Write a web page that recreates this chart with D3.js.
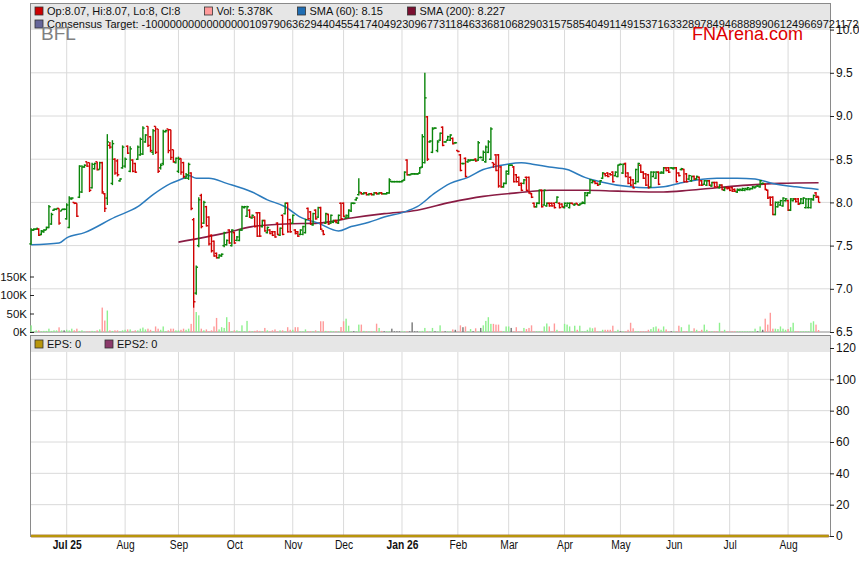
<!DOCTYPE html>
<html>
<head>
<meta charset="utf-8">
<script src="https://cdn.jsdelivr.net/npm/d3@7"></script>
<style>
  body { margin: 0; background: #fff; }
  svg text { font-family: "Liberation Sans", Arial, sans-serif; }
</style>
</head>
<body>
<svg id="chart" width="859" height="566"></svg>
<script>
// BFL daily bars, one entry per weekday from 11 Jun 2025
const opens = [
  7.52,7.68,7.69,7.69,7.63,7.66,7.68,7.71,7.75,7.91, 7.92,7.93,7.90,7.92,7.81,7.71,8.04,8.00,7.99,8.06,
  8.12,8.41,8.47,8.46,8.17,8.39,8.47,8.38,8.46,8.10, 8.05,8.66,8.22,8.50,8.48,8.25,8.40,8.42,8.65,8.36,
  8.49,8.45,8.50,8.55,8.56,8.70,8.88,8.76,8.58,8.88, 8.85,8.40,8.45,8.82,8.85,8.84,8.61,8.46,8.36,8.51,
  8.46,8.28,8.28,8.34,7.80,6.95,7.50,8.08,7.76,7.95, 7.83,7.62,7.55,7.41,7.36,7.38,7.50,7.51,7.68,7.50,
  7.65,7.56,7.56,7.68,7.94,7.84,7.91,7.82,7.83,7.88, 7.88,7.72,7.79,7.65,7.68,7.66,7.66,7.76,7.62,7.85,
  7.87,7.99,7.80,7.76,7.68,7.66,7.63,7.63,7.65,7.93, 7.89,7.74,7.91,7.83,7.94,7.67,7.76,7.86,7.76,7.77,
  7.79,7.76,7.99,7.99,7.82,7.83,7.90,7.99,8.03,8.09, 8.11,8.10,8.11,8.09,8.10,8.09,8.11,8.10,8.11,8.10,
  8.10,8.11,8.24,8.24,8.24,8.24,8.24,8.26,8.49,8.32,8.33, 8.33,8.33,8.34,8.41,8.46,8.99,8.70,8.58,8.86,8.60,8.72,
  8.87,8.70,8.72,8.72,8.74,8.69,8.60,8.55,8.45,8.51, 8.47,8.48,8.49,8.50,8.49,8.52,8.49,8.47,8.58,8.50,8.46,
  8.55,8.55,8.41,8.18,8.22,8.33,8.43,8.41,8.32,8.29, 8.22,8.22,8.29,8.29,8.10,7.99,7.95,7.99,8.14,7.97,
  7.96,7.99,7.99,7.99,8.00,7.99,7.98,7.94, 7.96,7.94,7.99,7.97,7.99,7.97,7.99,7.99,8.08,8.11,
  8.23,8.24,8.22,8.21,8.28,8.33,8.34,8.33,8.35,8.31, 8.30,8.44,8.34,8.45,8.34,8.29,8.26,8.22,8.24,8.43,
  8.35,8.33,8.32,8.18,8.30,8.28,8.35,8.34,8.34,8.40, 8.40,8.40,8.39,8.40,8.34,8.38,8.38,8.33,8.27,8.25,
  8.30,8.27,8.29,8.25,8.21,8.20,8.25,8.19,8.23,8.23, 8.17,8.20,8.14,8.17,8.17,8.17,8.15,8.12,8.14,8.14,
  8.14,8.15,8.15,8.16,8.17,8.19,8.18,8.22,8.21,8.14, 8.06,8.06,7.86,7.95,7.97,7.96,8.02,8.02,7.91,8.02,
  8.04,8.04,7.99,7.99,7.94,7.94,7.94,8.03,8.11,8.07
];
const highs = [
  7.70,7.70,7.70,7.70,7.68,7.69,7.72,7.97,7.88,7.93, 7.93,7.93,7.92,7.93,7.99,8.07,8.06,8.00,7.99,8.43,
  8.43,8.44,8.47,8.46,8.46,8.46,8.47,8.47,8.47,8.11, 8.79,8.70,8.72,8.51,8.50,8.28,8.66,8.52,8.66,8.65,
  8.50,8.46,8.66,8.75,8.88,8.79,8.88,8.77,8.85,8.88, 8.85,8.45,8.84,8.84,8.85,8.84,8.61,8.52,8.53,8.51,
  8.47,8.34,8.46,8.35,7.82,7.27,8.06,8.10,8.02,7.96, 7.84,7.63,7.56,7.42,7.40,7.41,7.66,7.57,7.69,7.69,
  7.66,7.61,7.69,7.96,7.96,7.96,7.92,7.86,7.84,7.89, 7.89,7.80,7.80,7.72,7.69,7.67,7.67,7.77,7.71,7.86,
  8.00,8.00,7.81,7.86,7.69,7.67,7.69,7.73,7.81,7.94, 7.90,7.88,7.92,7.95,7.95,7.68,7.88,7.87,7.86,7.80,
  7.80,7.86,8.00,8.00,7.86,7.92,8.00,8.00,8.06,8.28, 8.12,8.12,8.12,8.11,8.11,8.12,8.12,8.12,8.12,8.11,
  8.12,8.28,8.25,8.25,8.25,8.25,8.26,8.36,8.50,8.33,8.34, 8.34,8.34,8.41,8.79,9.50,9.00,8.72,8.87,8.87,8.72,8.81,
  8.88,8.71,8.77,8.79,8.75,8.70,8.60,8.56,8.46,8.52, 8.50,8.50,8.50,8.51,8.71,8.53,8.60,8.66,8.72,8.87,8.46,
  8.56,8.56,8.42,8.23,8.37,8.44,8.44,8.42,8.33,8.30, 8.23,8.27,8.30,8.30,8.11,8.00,8.00,8.15,8.15,8.15,
  8.00,8.00,8.00,8.00,8.07,8.00,7.99,8.00, 8.00,8.00,8.00,7.99,7.99,7.99,8.01,8.12,8.12,8.27,
  8.26,8.25,8.23,8.26,8.35,8.34,8.35,8.34,8.36,8.36, 8.44,8.45,8.45,8.46,8.35,8.30,8.27,8.39,8.46,8.44,
  8.36,8.34,8.33,8.36,8.36,8.36,8.36,8.36,8.41,8.41, 8.41,8.41,8.41,8.41,8.35,8.40,8.39,8.34,8.32,8.31,
  8.31,8.31,8.30,8.26,8.26,8.26,8.26,8.24,8.24,8.24, 8.21,8.21,8.18,8.18,8.18,8.18,8.16,8.16,8.16,8.17,
  8.17,8.18,8.17,8.19,8.19,8.20,8.26,8.23,8.22,8.15, 8.07,8.07,8.01,8.01,8.03,8.06,8.05,8.03,8.05,8.05,
  8.05,8.05,8.05,8.06,8.05,8.05,8.05,8.09,8.12,8.07
];
const lows = [
  7.51,7.67,7.68,7.61,7.62,7.65,7.68,7.70,7.74,7.90, 7.91,7.74,7.90,7.91,7.80,7.70,8.03,7.98,7.83,8.05,
  8.11,8.40,8.41,8.12,8.16,8.38,8.37,8.38,8.10,7.89, 7.97,8.62,8.20,8.32,8.30,8.24,8.39,8.40,8.56,8.35,
  8.35,8.34,8.49,8.54,8.55,8.69,8.64,8.58,8.55,8.56, 8.34,8.38,8.43,8.81,8.57,8.49,8.46,8.45,8.34,8.32,
  8.28,8.27,8.26,7.91,6.78,6.93,7.48,7.70,7.75,7.72, 7.50,7.42,7.37,7.35,7.35,7.37,7.48,7.50,7.52,7.49,
  7.52,7.55,7.55,7.67,7.93,7.83,7.82,7.81,7.71,7.60, 7.60,7.71,7.66,7.64,7.63,7.61,7.59,7.62,7.61,7.62,
  7.86,7.65,7.65,7.75,7.63,7.60,7.62,7.62,7.64,7.80, 7.74,7.73,7.80,7.82,7.68,7.62,7.75,7.74,7.75,7.76,
  7.76,7.75,7.80,7.83,7.81,7.82,7.89,7.98,8.02,8.08, 8.09,8.09,8.08,8.08,8.08,8.08,8.09,8.09,8.09,8.09,
  8.09,8.10,8.23,8.23,8.23,8.23,8.23,8.25,8.31,8.31,8.32, 8.32,8.32,8.33,8.40,8.45,8.48,8.69,8.57,8.85,8.58,8.71,
  8.65,8.69,8.71,8.71,8.67,8.68,8.58,8.36,8.44,8.29, 8.46,8.48,8.48,8.47,8.48,8.51,8.48,8.46,8.57,8.49,8.40,
  8.36,8.17,8.17,8.17,8.21,8.32,8.42,8.23,8.23,8.19, 8.13,8.21,8.13,8.10,8.05,7.94,7.94,7.98,7.94,7.96,
  7.95,7.95,7.95,7.93,7.99,7.93,7.94,7.93, 7.95,7.93,7.98,7.96,7.97,7.96,7.98,7.98,8.07,8.10,
  8.22,8.21,8.19,8.20,8.27,8.30,8.29,8.31,8.23,8.30, 8.29,8.43,8.33,8.29,8.21,8.19,8.16,8.21,8.23,8.34,
  8.27,8.19,8.16,8.17,8.29,8.27,8.20,8.33,8.33,8.36, 8.34,8.39,8.38,8.23,8.30,8.37,8.23,8.23,8.26,8.24,
  8.26,8.26,8.19,8.19,8.20,8.19,8.19,8.18,8.17,8.17, 8.16,8.14,8.13,8.15,8.13,8.12,8.12,8.11,8.13,8.13,
  8.13,8.14,8.14,8.15,8.16,8.18,8.17,8.21,8.14,8.04, 7.96,7.85,7.85,7.94,7.96,7.95,8.01,7.90,7.90,8.01,
  8.00,7.97,7.98,7.98,7.93,7.93,7.93,8.02,8.05,8.00
];
const closes = [
  7.68,7.69,7.70,7.62,7.67,7.68,7.71,7.95,7.86,7.92, 7.93,7.76,7.92,7.92,7.97,8.05,8.05,7.99,7.84,8.42,
  8.41,8.43,8.42,8.14,8.44,8.45,8.38,8.46,8.12,7.93, 8.70,8.64,8.68,8.34,8.32,8.27,8.64,8.50,8.57,8.62,
  8.36,8.35,8.64,8.73,8.86,8.78,8.66,8.60,8.83,8.58, 8.36,8.43,8.82,8.83,8.60,8.52,8.47,8.51,8.50,8.35,
  8.30,8.32,8.44,7.93,6.85,7.25,8.03,7.72,8.00,7.73, 7.52,7.44,7.38,7.36,7.39,7.40,7.65,7.56,7.53,7.68,
  7.53,7.60,7.68,7.95,7.95,7.95,7.83,7.85,7.72,7.61, 7.61,7.79,7.67,7.71,7.64,7.62,7.60,7.63,7.70,7.63,
  7.99,7.66,7.66,7.85,7.64,7.61,7.68,7.72,7.80,7.81, 7.75,7.87,7.81,7.94,7.69,7.63,7.87,7.75,7.85,7.79,
  7.77,7.85,7.81,7.84,7.85,7.91,7.99,7.99,8.05,8.12, 8.10,8.11,8.09,8.10,8.09,8.11,8.10,8.11,8.10,8.10,
  8.11,8.26,8.24,8.24,8.24,8.24,8.25,8.35,8.32,8.32,8.33, 8.33,8.33,8.40,8.76,9.21,8.50,8.71,8.85,8.86,8.70,8.80,
  8.66,8.70,8.76,8.78,8.68,8.69,8.59,8.37,8.45,8.30, 8.49,8.49,8.49,8.48,8.69,8.52,8.58,8.64,8.70,8.85,8.44,
  8.37,8.19,8.18,8.22,8.36,8.43,8.43,8.24,8.24,8.20, 8.14,8.26,8.14,8.11,8.06,7.95,7.99,8.14,7.95,8.14,
  7.99,7.96,7.96,7.94,8.06,7.94,7.95,7.99, 7.99,7.99,7.98,7.98,7.97,7.98,8.00,8.11,8.11,8.26,
  8.25,8.22,8.20,8.25,8.34,8.31,8.30,8.32,8.24,8.35, 8.43,8.44,8.44,8.30,8.22,8.20,8.17,8.38,8.45,8.35,
  8.28,8.20,8.17,8.35,8.35,8.35,8.21,8.35,8.40,8.37, 8.35,8.40,8.40,8.24,8.31,8.39,8.24,8.24,8.31,8.30,
  8.27,8.30,8.20,8.20,8.25,8.25,8.20,8.23,8.18,8.18, 8.20,8.15,8.17,8.16,8.14,8.13,8.13,8.15,8.15,8.16,
  8.16,8.17,8.16,8.18,8.18,8.19,8.25,8.22,8.15,8.05, 7.97,7.86,8.00,8.00,8.02,8.05,8.04,7.91,8.04,8.04,
  8.01,7.98,8.04,8.05,8.04,8.04,8.04,8.08,8.06,8.00
];
// volume in thousands of shares
const volumes = [
  18,2,4.5,4.5,2,3,3,9,3,4.5, 4.5,12.6,4.5,4.5,6,4.5,9,4.5,9,3,
  4.5,1,1.8,1.8,3,2,4.5,7,66,31, 58,4.5,3,4.5,4.5,2,4.5,6,7,7,
  2,4.5,4.5,9,12,7,9,6,2,15, 9,6,15,2,4.5,9,9,4.5,4.5,6,
  9,6,9,22,65,54,45,9,4.5,7, 2,4.5,15,38,7,13,11,40,27,2,
  4.5,4.5,2,18,2,30,3,2,3,4.5, 3,2,11,4.5,2,4.5,7,2,4.5,4.5,
  2,13,6,6,13,13,1.8,1.8,7,2, 2,2,4.5,2,29,29,3,2,3,2,
  2,2,13.5,29,36,17,2,2,2,20, 20,3,2,2,2,2,22.5,11,3,2,
  2,2,9,2,2,2,2,2,2,2, 26,2,2,2,3,11,2,2,11,2,
  2,18,2,2,2,2,7,6,2,18, 13,15,2,8,2,10,2,11,18,30,
  40,22,22,20,20,3,2,15,15,11, 2,13,2,2,11,8,11,18,2,2,
  2,2,15,23,15,2,23,6,2,2, 22,20,15,2,17,6,17,2,2,6,
  12,10,12,2,2,6,6,6,6,17, 2,6,2,2,2,6,25,10,2,2,
  2,2,2,6,8,13,15,9,6,15, 7,2,2,2,2,17,13,2,2,20,
  2,10,6,2,6,20,6,2,2,2, 2,25,2,6,2,2,2,2,2,2,
  2,2,2,2,2,9,2,15,6,36, 20,52,9,9,8,15,9,6,8,13,
  25,2,2,2,2,2,2,25,29,20,5.378
];
// moving averages at a few trading days
const sma60Day = [0,11,14,21,33,42,48,55,60,62,65,70,77,87,93,100,106,113,121,126,133,139,147,152,159,165,172,178,185,193,198,204,211,218,224,236,242,249,255,262,270,278,285,292,301,310];
const sma60 = [7.51,7.53,7.59,7.65,7.83,7.95,8.09,8.22,8.28,8.31,8.28,8.28,8.22,8.12,8.03,7.95,7.83,7.76,7.67,7.72,7.77,7.83,7.89,7.95,8.11,8.22,8.29,8.38,8.43,8.46,8.44,8.41,8.38,8.29,8.24,8.18,8.17,8.18,8.22,8.26,8.28,8.28,8.27,8.22,8.18,8.15];
const sma200Day = [58,77,87,100,113,126,139,152,165,178,191,204,218,231,249,259,270,282,295,310];
const sma200 = [7.54,7.65,7.72,7.75,7.76,7.82,7.87,7.91,8.00,8.07,8.11,8.14,8.14,8.13,8.12,8.14,8.17,8.20,8.22,8.227];
const epsDay = [0, 314];
const eps = [0, 0];

const priceTicks = [6.5, 7.0, 7.5, 8.0, 8.5, 9.0, 9.5, 10.0];
const volTicks = [0, 50, 100, 150];
const epsTicks = [0, 20, 40, 60, 80, 100, 120];
const consensusText = "Consensus Target: -10000000000000000109790636294404554174049230967731184633681068290315758540491149153716332897849468889906124966972117200";

// trading calendar (weekdays)
const days = [];
for (let d = new Date(2025, 5, 11); days.length < 315; d.setDate(d.getDate() + 1)) {
  if (d.getDay() !== 0 && d.getDay() !== 6) days.push(new Date(d));
}
const monthTicks = [];
days.forEach((d, i) => {
  if (i > 0 && d.getMonth() !== days[i - 1].getMonth()) monthTicks.push(i);
});

const L = 31, R = 830;
const svg = d3.select("#chart");

const x = d3.scaleLinear().domain([-0.05, 314.5]).range([L, R]);
const yPrice = d3.scaleLinear().domain([6.5, 10]).range([332, 29.6]);
const yVol = d3.scaleLinear().domain([0, 150]).range([332, 276.5]);
const yEps = d3.scaleLinear().domain([0, 120]).range([536, 348]);

// panel backgrounds and frames
svg.append("rect").attr("x", 30.5).attr("y", 3.5).attr("width", 800).attr("height", 328.5)
  .attr("fill", "#fff").attr("stroke", "#8a8a8a");
svg.append("rect").attr("x", 30.5).attr("y", 335.5).attr("width", 800).attr("height", 201)
  .attr("fill", "#fff").attr("stroke", "#8a8a8a");

// grid
const grid = svg.append("g").attr("stroke", "#dadada").attr("stroke-width", 1);
monthTicks.forEach(i => {
  grid.append("line").attr("x1", x(i)).attr("x2", x(i)).attr("y1", 30).attr("y2", 331);
  grid.append("line").attr("x1", x(i)).attr("x2", x(i)).attr("y1", 352).attr("y2", 536);
});
priceTicks.filter(v => v > 6.5 && v < 10).forEach(v => {
  grid.append("line").attr("x1", L).attr("x2", R).attr("y1", yPrice(v)).attr("y2", yPrice(v));
});
epsTicks.filter(v => v > 0 && v < 120).forEach(v => {
  grid.append("line").attr("x1", L).attr("x2", R).attr("y1", yEps(v)).attr("y2", yEps(v));
});

// volume bars
const volColor = i => closes[i] > opens[i] ? "#8ef08e" : closes[i] < opens[i] ? "#ff9a9a" : "#777";
svg.append("g").selectAll("rect").data(volumes).enter().append("rect")
  .attr("x", (d, i) => x(i) - 0.7)
  .attr("width", 1.4)
  .attr("y", d => yVol(d))
  .attr("height", d => yVol(0) - yVol(d))
  .attr("fill", (d, i) => volColor(i));

// moving averages
const smaLine = d3.line().x(d => x(d[0])).y(d => yPrice(d[1])).curve(d3.curveMonotoneX);
svg.append("path").datum(sma200Day.map((d, i) => [d, sma200[i]]))
  .attr("d", smaLine).attr("fill", "none").attr("stroke", "#8a1c44").attr("stroke-width", 1.6);
svg.append("path").datum(sma60Day.map((d, i) => [d, sma60[i]]))
  .attr("d", smaLine).attr("fill", "none").attr("stroke", "#2b7bbd").attr("stroke-width", 1.5);

// OHLC bars
const bars = svg.append("g").attr("stroke-width", 1.4);
closes.forEach((c, i) => {
  const col = c >= opens[i] ? "#0a850a" : "#d00000";
  const cx = x(i);
  bars.append("line").attr("x1", cx).attr("x2", cx)
    .attr("y1", yPrice(highs[i])).attr("y2", yPrice(lows[i])).attr("stroke", col);
  bars.append("line").attr("x1", cx - 1.8).attr("x2", cx)
    .attr("y1", yPrice(opens[i])).attr("y2", yPrice(opens[i])).attr("stroke", col);
  bars.append("line").attr("x1", cx).attr("x2", cx + 1.8)
    .attr("y1", yPrice(c)).attr("y2", yPrice(c)).attr("stroke", col);
});

// EPS lines (both zero)
const epsLine = d3.line().x(d => x(d[0])).y(d => yEps(d[1]));
svg.append("path").datum(epsDay.map((d, i) => [d, eps[i]]))
  .attr("d", epsLine).attr("stroke", "#8b3a6b").attr("stroke-width", 2.5).attr("fill", "none");
svg.append("path").datum(epsDay.map((d, i) => [d, eps[i]]))
  .attr("d", epsLine).attr("stroke", "#b8960b").attr("stroke-width", 2.5).attr("fill", "none");

// legend bars
svg.append("rect").attr("x", 31).attr("y", 4).attr("width", 799).attr("height", 26).attr("fill", "#e6e6e6");
svg.append("rect").attr("x", 31).attr("y", 336).attr("width", 799).attr("height", 16).attr("fill", "#e6e6e6");

function legendItem(xPos, yPos, color, label) {
  svg.append("rect").attr("x", xPos).attr("y", yPos - 4).attr("width", 8).attr("height", 8)
    .attr("fill", color).attr("stroke", "#333").attr("stroke-width", 0.8);
  svg.append("text").attr("x", xPos + 12).attr("y", yPos).attr("dy", "0.35em")
    .attr("font-size", 11).attr("fill", "#111").text(label);
}
legendItem(35, 11, "#cc0000", "Op:8.07, Hi:8.07, Lo:8, Cl:8");
legendItem(204.5, 11, "#ff9a9a", "Vol: 5.378K");
legendItem(297.5, 11, "#1f6db3", "SMA (60): 8.15");
legendItem(407.5, 11, "#7a0f30", "SMA (200): 8.227");
legendItem(35, 24, "#66669a", consensusText);
legendItem(35, 344, "#b8960b", "EPS: 0");
legendItem(105, 344, "#8b3a6b", "EPS2: 0");

svg.append("text").attr("x", 41).attr("y", 39.5).attr("font-size", 19).attr("fill", "#808080").text("BFL");
svg.append("text").attr("x", 692).attr("y", 39.5).attr("font-size", 18).attr("fill", "#dd0000").text("FNArena.com");

// axes
const priceAxis = svg.append("g").attr("transform", `translate(${R},0)`)
  .call(d3.axisRight(yPrice).tickValues(priceTicks).tickFormat(d3.format(".1f")).tickSize(4).tickPadding(2));
const epsAxis = svg.append("g").attr("transform", `translate(${R},0)`)
  .call(d3.axisRight(yEps).tickValues(epsTicks).tickFormat(d3.format("d")).tickSize(4).tickPadding(2));
const volAxis = svg.append("g").attr("transform", `translate(${L - 1},0)`)
  .call(d3.axisLeft(yVol).tickValues(volTicks).tickFormat(d => d + "K").tickSize(-4).tickPadding(3));
[priceAxis, epsAxis, volAxis].forEach(a => {
  a.select(".domain").remove();
  a.selectAll("text").attr("font-size", 12).attr("fill", "#111")
    .style("font-family", "'Liberation Sans', Arial, sans-serif");
  a.selectAll("line").attr("stroke", "#222");
});
volAxis.selectAll("text").attr("font-size", 11.5);

const fmtMonth = d3.timeFormat("%b"), fmtYear = d3.timeFormat("%b %y");
const isYear = (i, k) => k === 0 || days[i].getMonth() === 0;
const timeAxis = svg.append("g").attr("transform", "translate(0,537)")
  .call(d3.axisBottom(x).tickValues(monthTicks).tickSize(0).tickPadding(3)
    .tickFormat((i, k) => isYear(i, k) ? fmtYear(days[i]) : fmtMonth(days[i])));
timeAxis.select(".domain").remove();
// narrow lettering like the original axis
timeAxis.selectAll("text")
  .attr("font-size", 12.5).attr("fill", "#111")
  .attr("transform", "scale(0.82,1)")
  .attr("font-weight", (i, k) => isYear(i, k) ? "bold" : "normal");
</script>
</body>
</html>
